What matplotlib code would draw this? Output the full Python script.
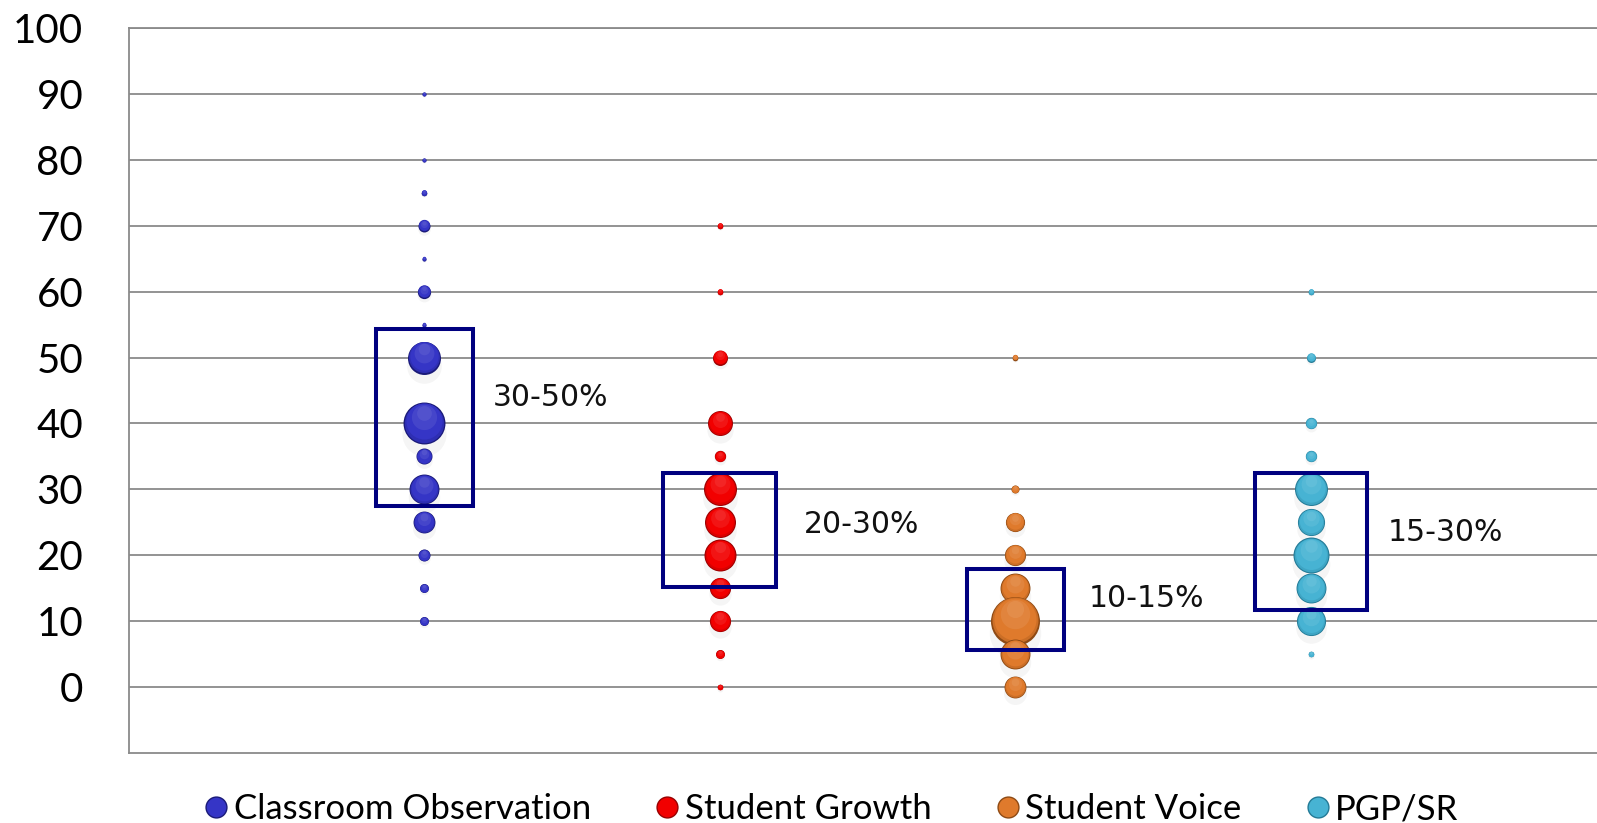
import numpy as np
import matplotlib.pyplot as plt
from matplotlib import transforms
from matplotlib.patches import Rectangle
from matplotlib.lines import Line2D
from matplotlib.colors import to_rgb

# weighting categories and the share (%) each respondent suggested
categories = ['Classroom Observation', 'Student Growth', 'Student Voice', 'PGP/SR']

obs_pct = [90, 80, 75, 70, 65, 60, 55, 50, 40, 35, 30, 25, 20, 15, 10]
obs_n = [1, 1, 2, 9, 1, 11, 1, 68, 110, 16, 56, 30, 9, 5, 5]

growth_pct = [70, 60, 50, 40, 35, 30, 25, 20, 15, 10, 5, 0]
growth_n = [2, 2, 14, 39, 8, 68, 60, 64, 28, 28, 5, 2]

voice_pct = [50, 30, 25, 20, 15, 10, 5, 0]
voice_n = [2, 4, 23, 28, 56, 150, 56, 30]

pgp_pct = [60, 50, 40, 35, 30, 25, 20, 15, 10, 5]
pgp_n = [2, 5, 8, 8, 68, 46, 81, 56, 53, 2]

# recommended ranges (boxes)
range_lo = [27.5, 15.2, 5.6, 11.7]
range_hi = [54.3, 32.5, 17.9, 32.5]
range_labels = ['30-50%', '20-30%', '10-15%', '15-30%']

colors = ['#3535c6', '#f20000', '#df7a2c', '#47b3d3']
dark = ['#1a1a78', '#980000', '#8e4a14', '#237a96']

pcts = [obs_pct, growth_pct, voice_pct, pgp_pct]
counts = [obs_n, growth_n, voice_n, pgp_n]


def mix(c, other, t):
    a = np.array(to_rgb(c))
    b = np.array(to_rgb(other))
    return tuple(a * (1 - t) + b * t)


fig = plt.figure(figsize=(15.97, 8.23), dpi=100)
# plot area runs a little past the right edge of the figure
ax = fig.add_axes([0.0808, 0.085, 0.925, 0.881])

ax.set_xlim(0, 5)
ax.set_ylim(-10, 100)
ax.set_yticks(range(0, 101, 10))
ax.set_xticks([])
ax.tick_params(axis='y', length=0, pad=33, labelsize=29)
for lab in ax.get_yticklabels():
    lab.set_fontfamily('Lato')
ax.grid(axis='y', color='#8a8a8a', linewidth=1.3, zorder=0)
ax.set_axisbelow(True)
for side in ['left', 'bottom', 'top']:
    ax.spines[side].set_color('#8a8a8a')
    ax.spines[side].set_linewidth(1.3)
ax.spines['right'].set_visible(False)

# shaded spheres: soft shadow, dark rim, body, soft highlight on top
layers = [
    # scale, dy (fraction of diameter), colour fn, alpha
    (1.05, -0.25, lambda c, d: '#000000', 0.04),
    (1.00, 0.00, lambda c, d: d, 1.0),
    (0.94, 0.02, lambda c, d: mix(c, d, 0.25), 1.0),
    (0.86, 0.05, lambda c, d: c, 1.0),
    (0.60, 0.15, lambda c, d: mix(c, '#ffffff', 0.18), 0.45),
    (0.35, 0.25, lambda c, d: mix(c, '#ffffff', 0.30), 0.30),
]

for i in range(4):
    xs = np.full(len(pcts[i]), i + 1.0)
    diam = 2.88 * np.sqrt(np.array(counts[i], dtype=float))  # points
    for x, y, d in zip(xs, pcts[i], diam):
        for scale, dy, cfn, alpha in layers:
            tr = transforms.offset_copy(ax.transData, fig=fig, x=0, y=dy * d, units='points')
            ax.scatter([x], [y], s=(d * scale) ** 2, color=cfn(colors[i], dark[i]),
                       alpha=alpha, linewidths=0, transform=tr, zorder=3)

box_half = [0.163, 0.191, 0.163, 0.19]
for i in range(4):
    ax.add_patch(Rectangle((i + 1 - box_half[i], range_lo[i]), 2 * box_half[i],
                           range_hi[i] - range_lo[i], fill=False,
                           edgecolor='#00007f', linewidth=2.9, zorder=5))

label_pos = [(1.231, 43.9), (2.283, 24.7), (3.247, 13.4), (4.261, 23.5)]
for (lx, ly), txt in zip(label_pos, range_labels):
    ax.text(lx, ly, txt, fontsize=21.5, family='DejaVu Sans', ha='left', va='center',
            color='#111111', zorder=6)

handles = [Line2D([], [], linestyle='none', marker='o', markersize=15,
                  markerfacecolor=colors[i], markeredgecolor=dark[i], markeredgewidth=1)
           for i in range(4)]
fig.legend(handles, categories, loc='center', bbox_to_anchor=(0.521, 0.017), ncol=4,
           frameon=False, prop={'family': 'Lato', 'size': 25}, handlelength=0.6,
           handletextpad=0.2, columnspacing=1.9, borderaxespad=0)

fig.savefig('out.png', dpi=100)
